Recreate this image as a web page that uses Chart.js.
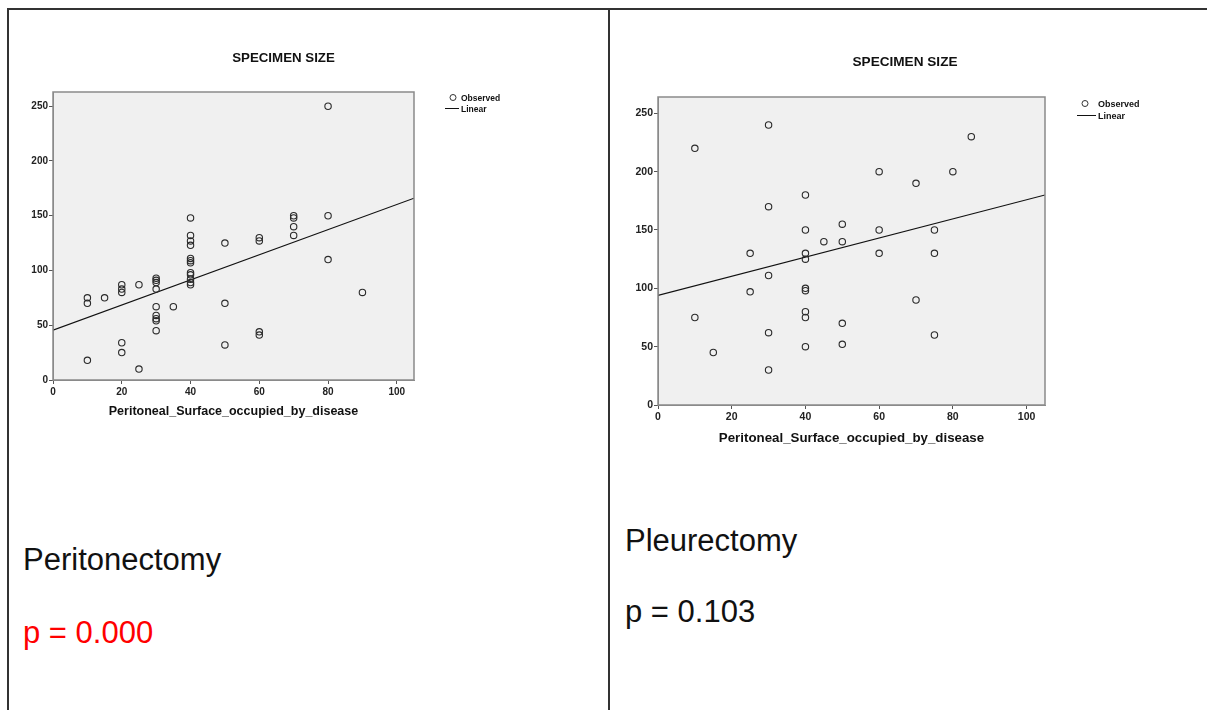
<!DOCTYPE html>
<html>
<head>
<meta charset="utf-8">
<script src="https://cdn.jsdelivr.net/npm/chart.js"></script>
<style>
  body { margin: 0; background: #fff; width: 1207px; height: 710px; overflow: hidden; position: relative; font-family: "Liberation Sans", Arial, sans-serif; }
  .rule { position: absolute; background: #333; }
  .chartbox { position: absolute; }
  .note { position: absolute; font-size: 31px; line-height: 31px; white-space: nowrap; color: #111; }
</style>
</head>
<body>
<div class="rule" style="left:7px;top:8px;width:1200px;height:2px"></div>
<div class="rule" style="left:7px;top:8px;width:2px;height:702px"></div>
<div class="rule" style="left:608px;top:8px;width:2px;height:702px"></div>

<div class="chartbox" style="left:10px;top:30px;width:590px;height:400px"><canvas id="periChart"></canvas></div>
<div class="chartbox" style="left:612px;top:30px;width:590px;height:430px"><canvas id="pleuChart"></canvas></div>

<div class="note" style="left:23px;top:544px">Peritonectomy</div>
<div class="note" style="left:23px;top:617px;color:#f00">p = 0.000</div>
<div class="note" style="left:625px;top:525px">Pleurectomy</div>
<div class="note" style="left:625px;top:596px">p = 0.103</div>

<script>
// -------------------- Data --------------------
const xTicks = [0, 20, 40, 60, 80, 100];
const yTicks = [0, 50, 100, 150, 200, 250];

// Peritonectomy: surface occupied (%) vs specimen size
const periX = [10, 10, 10, 15, 20, 20, 20, 20, 20, 25, 25,
  30, 30, 30, 30, 30, 30, 30, 30, 30, 35,
  40, 40, 40, 40, 40, 40, 40, 40, 40, 40, 40, 40,
  50, 50, 50, 60, 60, 60, 60, 70, 70, 70, 70, 80, 80, 80, 90];
const periY = [75, 70, 18, 75, 87, 83, 80, 34, 25, 87, 10,
  93, 91, 89, 83, 67, 59, 56, 54, 45, 67,
  148, 132, 127, 123, 111, 109, 107, 98, 96, 92, 89, 87,
  125, 70, 32, 130, 127, 44, 41, 150, 148, 140, 132, 250, 150, 110, 80];
const periLineX = [0, 105];
const periLineY = [45.5, 166];

// Pleurectomy
const pleuX = [10, 10, 15, 25, 25, 30, 30, 30, 30, 30,
  40, 40, 40, 40, 40, 40, 40, 40, 40, 45,
  50, 50, 50, 50, 60, 60, 60, 70, 70, 75, 75, 75, 80, 85];
const pleuY = [220, 75, 45, 130, 97, 240, 170, 111, 62, 30,
  180, 150, 130, 125, 100, 98, 80, 75, 50, 140,
  155, 140, 70, 52, 200, 150, 130, 190, 90, 150, 130, 60, 200, 230];
const pleuLineX = [0, 105];
const pleuLineY = [94, 180];

// -------------------- Ram, titel och förklaring --------------------
const panelDecor = {
  id: "panelDecor",
  beforeDraw(chart, args, o) {
    const { ctx, chartArea: a } = chart;
    ctx.save();
    ctx.fillStyle = "#f0f0f0";
    ctx.fillRect(a.left, a.top, a.width, a.height);
    ctx.restore();
  },
  afterDraw(chart, args, o) {
    const { ctx, chartArea: a } = chart;
    ctx.save();
    ctx.strokeStyle = "#8a8a8a";
    ctx.lineWidth = 1.5;
    ctx.strokeRect(a.left, a.top, a.width, a.height);

    // titel
    ctx.fillStyle = "#111";
    ctx.font = `bold ${o.titleSize}px "Liberation Sans", Arial, sans-serif`;
    ctx.textAlign = "center";
    ctx.textBaseline = "middle";
    ctx.fillText(o.title, o.titleX, o.titleY);

    // förklaring
    const lx = a.right + o.legendDx;
    const ly = a.top + o.legendDy;
    ctx.font = `bold ${o.legendSize}px "Liberation Sans", Arial, sans-serif`;
    ctx.textAlign = "left";
    ctx.strokeStyle = "#333";
    ctx.lineWidth = 1;
    ctx.beginPath();
    ctx.arc(lx, ly, 3, 0, Math.PI * 2);
    ctx.stroke();
    ctx.fillText("Observed", lx + o.textGap, ly + 1);
    ctx.strokeStyle = "#111";
    ctx.beginPath();
    ctx.moveTo(lx - 8, ly + o.rowGap);
    ctx.lineTo(lx + o.textGap - 2, ly + o.rowGap);
    ctx.stroke();
    ctx.fillText("Linear", lx + o.textGap, ly + o.rowGap + 1);
    ctx.restore();
  }
};

function makeChart(id, xs, ys, lineXs, lineYs, o) {
  const tickFont = { family: "Liberation Sans", size: o.tickSize, weight: "bold" };
  const grid = { display: true, drawOnChartArea: false, drawTicks: true, tickLength: 4, color: "#555", lineWidth: 1 };

  return new Chart(document.getElementById(id), {
    type: "scatter",
    data: {
      datasets: [
        {
          label: "Observed",
          data: xs.map((x, i) => ({ x: x, y: ys[i] })),
          pointStyle: "circle",
          pointRadius: 3.2,
          borderColor: "#2a2a2a",
          backgroundColor: "rgba(0,0,0,0)",
          borderWidth: 1.1
        },
        {
          label: "Linear",
          type: "line",
          data: lineXs.map((x, i) => ({ x: x, y: lineYs[i] })),
          borderColor: "#111",
          borderWidth: 1.2,
          pointRadius: 0,
          fill: false
        }
      ]
    },
    options: {
      responsive: true,
      maintainAspectRatio: false,
      animation: false,
      events: [],
      layout: { padding: { left: 0, right: o.padRight, top: o.padTop, bottom: 0 } },
      scales: {
        x: {
          type: "linear",
          min: 0,
          max: 105,
          afterBuildTicks: s => { s.ticks = xTicks.map(v => ({ value: v })); },
          afterFit: s => { s.height = o.xAxisHeight; },
          ticks: { font: tickFont, color: "#222", padding: 2, maxRotation: 0 },
          grid: grid,
          border: { display: true, color: "#8a8a8a", width: 1 },
          title: {
            display: true,
            text: "Peritoneal_Surface_occupied_by_disease",
            font: { family: "Liberation Sans", size: o.axisTitleSize, weight: "bold" },
            color: "#111",
            padding: { top: 4, bottom: o.axisTitlePadBottom }
          }
        },
        y: {
          type: "linear",
          min: 0,
          max: o.yMax,
          afterBuildTicks: s => { s.ticks = yTicks.map(v => ({ value: v })); },
          afterFit: s => { s.width = o.yAxisWidth; },
          ticks: { font: tickFont, color: "#222", padding: 1 },
          grid: grid,
          border: { display: true, color: "#8a8a8a", width: 1 }
        }
      },
      plugins: {
        legend: { display: false },
        tooltip: { enabled: false },
        panelDecor: o.decor
      }
    },
    plugins: [panelDecor]
  });
}

makeChart("periChart", periX, periY, periLineX, periLineY, {
  yMax: 263, padRight: 186, padTop: 62, yAxisWidth: 43, xAxisHeight: 50,
  tickSize: 10, axisTitleSize: 12.5, axisTitlePadBottom: 11,
  decor: { title: "SPECIMEN SIZE", titleX: 273.5, titleY: 28.5, titleSize: 13.3,
           legendDx: 39, legendDy: 5.5, legendSize: 8.5, textGap: 8, rowGap: 11 }
});

makeChart("pleuChart", pleuX, pleuY, pleuLineX, pleuLineY, {
  yMax: 264, padRight: 157, padTop: 67, yAxisWidth: 46, xAxisHeight: 55,
  tickSize: 10.5, axisTitleSize: 13.3, axisTitlePadBottom: 14,
  decor: { title: "SPECIMEN SIZE", titleX: 293, titleY: 32.5, titleSize: 13.6,
           legendDx: 40, legendDy: 6.5, legendSize: 9, textGap: 13, rowGap: 12 }
});
</script>
</body>
</html>
